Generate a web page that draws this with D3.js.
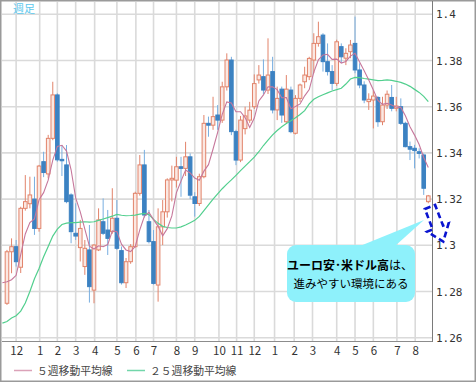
<!DOCTYPE html>
<html><head><meta charset="utf-8">
<script src="https://cdn.jsdelivr.net/npm/d3@7"></script>
<style>
html,body{margin:0;padding:0;background:#fff;}
svg{display:block;}
</style></head>
<body>
<svg id="c" width="476" height="382"></svg>
<script>
// ---- data: EUR/USD weekly, week index 0 = 2012-11-12 (candle 0 lies off the plot) ----
const firstWeek = "2012-11-12";
const open = [null,
1.2749,1.2972,1.2994,1.2905,1.3160,1.3180,1.3200,1.3073,1.3362,1.3309,
1.3463,1.3651,1.3372,1.3348,1.3218,1.3052,1.2990,1.2908,1.2980,1.2806,
1.2980,1.3102,1.3066,1.3059,1.3117,1.2977,1.2838,1.2929,1.2994,1.3225,
1.3348,1.3102,1.3016,1.2828,1.3080,1.3145,1.3283,1.3282,1.3340,1.3333,
1.3383,1.3210,1.3181,1.3297,1.3528,1.3520,1.3564,1.3542,1.3686,1.3802,
1.3492,1.3369,1.3505,1.3542,1.3600,1.3716,1.3730,1.3672,1.3752,1.3586,
1.3676,1.3535,1.3672,1.3485,1.3636,1.3708,1.3730,1.3802,1.3874,1.3910,
1.3795,1.3752,1.3701,1.3860,1.3810,1.3838,1.3874,1.3759,1.3694,1.3622,
1.3629,1.3640,1.3535,1.3607,1.3640,1.3593,1.3600,1.3528,1.3427,1.3420,
1.3405,1.3391,1.3189];
const high = [null,
1.2980,1.3030,1.3023,1.3167,1.3304,1.3297,1.3297,1.3348,1.3405,1.3478,
1.3708,1.3658,1.3434,1.3434,1.3225,1.3182,1.3110,1.3023,1.3088,1.3005,
1.3160,1.3203,1.3153,1.3247,1.3196,1.2995,1.2945,1.3005,1.3232,1.3391,
1.3413,1.3153,1.3066,1.3160,1.3196,1.3290,1.3345,1.3383,1.3383,1.3448,
1.3398,1.3230,1.3310,1.3564,1.3557,1.3643,1.3607,1.3708,1.3831,1.3816,
1.3500,1.3560,1.3600,1.3621,1.3740,1.3780,1.3805,1.3896,1.3816,1.3687,
1.3687,1.3737,1.3687,1.3650,1.3700,1.3773,1.3816,1.3918,1.3968,1.3918,
1.3874,1.3780,1.3890,1.3874,1.3853,1.3889,1.3990,1.3788,1.3710,1.3658,
1.3672,1.3646,1.3643,1.3670,1.3694,1.3643,1.3636,1.3535,1.3449,1.3435,
1.3420,1.3398,1.3218];
const low = [null,
1.2742,1.2879,1.2908,1.2880,1.3150,1.3160,1.3045,1.3059,1.3295,1.3290,
1.3455,1.3362,1.3300,1.3182,1.3009,1.3023,1.2930,1.2872,1.2752,1.2749,
1.2975,1.3045,1.2958,1.3050,1.2980,1.2830,1.2815,1.2920,1.2990,1.3215,
1.3120,1.3008,1.2830,1.2756,1.3001,1.3120,1.3190,1.3250,1.3210,1.3300,
1.3200,1.3124,1.3170,1.3290,1.3470,1.3500,1.3500,1.3530,1.3670,1.3477,
1.3347,1.3360,1.3480,1.3530,1.3590,1.3700,1.3655,1.3655,1.3571,1.3542,
1.3530,1.3528,1.3485,1.3480,1.3620,1.3680,1.3715,1.3745,1.3860,1.3752,
1.3735,1.3672,1.3690,1.3790,1.3780,1.3810,1.3745,1.3680,1.3615,1.3586,
1.3506,1.3513,1.3520,1.3590,1.3580,1.3580,1.3521,1.3424,1.3369,1.3333,
1.3376,1.3218,1.3182];
const close = [null,
1.2972,1.2994,1.2929,1.3160,1.3189,1.3218,1.3073,1.3343,1.3315,1.3463,
1.3651,1.3370,1.3366,1.3189,1.3059,1.3040,1.3073,1.2987,1.2821,1.3001,
1.3110,1.3052,1.3030,1.3117,1.2987,1.2838,1.2929,1.2994,1.3225,1.3348,
1.3131,1.3016,1.2835,1.3080,1.3145,1.3283,1.3290,1.3340,1.3333,1.3383,
1.3217,1.3181,1.3297,1.3528,1.3520,1.3557,1.3542,1.3686,1.3802,1.3492,
1.3369,1.3542,1.3560,1.3585,1.3700,1.3737,1.3672,1.3737,1.3586,1.3636,
1.3564,1.3676,1.3492,1.3636,1.3694,1.3737,1.3809,1.3874,1.3903,1.3795,
1.3752,1.3701,1.3881,1.3816,1.3831,1.3867,1.3759,1.3694,1.3629,1.3632,
1.3646,1.3535,1.3607,1.3654,1.3593,1.3603,1.3528,1.3427,1.3416,1.3410,
1.3398,1.3247,1.3214];
const ma5 = [1.2838,
1.2842,1.2851,1.2870,1.2960,1.3049,1.3098,1.3114,1.3197,1.3228,1.3282,
1.3369,1.3428,1.3433,1.3408,1.3327,1.3205,1.3145,1.3070,1.2996,1.2984,
1.2998,1.2994,1.3003,1.3062,1.3059,1.3005,1.2980,1.2973,1.2995,1.3067,
1.3125,1.3143,1.3111,1.3082,1.3041,1.3072,1.3127,1.3228,1.3278,1.3326,
1.3313,1.3291,1.3282,1.3321,1.3349,1.3417,1.3489,1.3567,1.3621,1.3616,
1.3578,1.3578,1.3553,1.3510,1.3551,1.3625,1.3651,1.3686,1.3686,1.3674,
1.3639,1.3640,1.3591,1.3601,1.3612,1.3647,1.3674,1.3750,1.3803,1.3824,
1.3827,1.3805,1.3806,1.3789,1.3796,1.3819,1.3831,1.3793,1.3756,1.3716,
1.3672,1.3627,1.3610,1.3615,1.3607,1.3598,1.3597,1.3561,1.3513,1.3477,
1.3436,1.3380,1.3337];
const ma25 = [1.2663,
1.2670,1.2685,1.2695,1.2715,1.2750,1.2800,1.2855,1.2900,1.2950,1.2995,
1.3040,1.3070,1.3090,1.3096,1.3098,1.3098,1.3100,1.3102,1.3100,1.3102,
1.3108,1.3114,1.3120,1.3126,1.3134,1.3130,1.3128,1.3129,1.3131,1.3135,
1.3138,1.3133,1.3112,1.3095,1.3082,1.3077,1.3075,1.3075,1.3080,1.3088,
1.3098,1.3108,1.3125,1.3150,1.3175,1.3200,1.3223,1.3245,1.3265,1.3283,
1.3303,1.3323,1.3343,1.3362,1.3382,1.3405,1.3432,1.3455,1.3478,1.3497,
1.3513,1.3527,1.3539,1.3552,1.3566,1.3583,1.3612,1.3632,1.3643,1.3652,
1.3660,1.3668,1.3674,1.3680,1.3698,1.3720,1.3727,1.3726,1.3722,1.3719,
1.3716,1.3713,1.3714,1.3716,1.3714,1.3710,1.3705,1.3698,1.3688,1.3675,
1.3662,1.3645,1.3622];
const yTicks = [1.26, 1.28, 1.3, 1.32, 1.34, 1.36, 1.38, 1.4];
const monthTicks = ["2012-12-03","2013-01-08","2013-02-04","2013-03-04","2013-04-02",
 "2013-05-06","2013-06-04","2013-07-01","2013-08-05","2013-09-02","2013-10-09",
 "2013-11-05","2013-12-02","2014-01-02","2014-02-01","2014-03-01","2014-04-07",
 "2014-05-05","2014-06-02","2014-07-08","2014-08-05"];
const legendLabels = ["５週移動平均線", "２５週移動平均線"];
const periodLabel = "週足";
const calloutBold = "ユーロ安･米ドル高";
const calloutRest = "は、";
const calloutLine2 = "進みやすい環境にある";

// ---- build ----
const parse = d3.utcParse("%Y-%m-%d");
const start = parse(firstWeek);
const dates = open.map((_, i) => d3.utcDay.offset(start, 7 * i));
const data = dates.map((d, i) => ({d, i, o: open[i], h: high[i], l: low[i], c: close[i], m5: ma5[i], m25: ma25[i]}));

const svg = d3.select("#c");
const plotL = 2, plotR = 432, plotT = 2, plotB = 341;
const x = d3.scaleUtc().domain([dates[0], dates[dates.length - 1]]).range([2.4, 428.3]);
const y = d3.scaleLinear().domain([1.26, 1.4]).range([337.7, 14.3]);

// outer frame
svg.append("rect").attr("x", 0.75).attr("y", 0.75).attr("width", 474.5).attr("height", 380.5)
  .attr("fill", "#fff").attr("stroke", "#9a9a9a").attr("stroke-width", 1.5);

const clip = svg.append("defs").append("clipPath").attr("id", "pc");
clip.append("rect").attr("x", plotL).attr("y", plotT).attr("width", plotR - plotL).attr("height", plotB - plotT);

// gridlines
const grid = svg.append("g");
grid.selectAll("line.h").data(yTicks).join("line")
  .attr("x1", plotL).attr("x2", plotR).attr("y1", d => y(d)).attr("y2", d => y(d))
  .attr("stroke", "#dadada").attr("stroke-width", 1.6);
const mt = monthTicks.map(parse);
grid.selectAll("line.v").data(mt).join("line")
  .attr("x1", d => x(d)).attr("x2", d => x(d)).attr("y1", plotT).attr("y2", plotB)
  .attr("stroke", "#dadada").attr("stroke-width", 1.6);

// plot bottom & right axis line
svg.append("line").attr("x1", plotL).attr("x2", plotR).attr("y1", plotB + 0.5).attr("y2", plotB + 0.5)
  .attr("stroke", "#8c8c8c").attr("stroke-width", 1);
svg.append("line").attr("x1", plotR + 0.5).attr("x2", plotR + 0.5).attr("y1", 1).attr("y2", plotB + 1)
  .attr("stroke", "#7a7a7a").attr("stroke-width", 1);

// right y axis labels
const yAxis = d3.axisRight(y).tickValues(yTicks).tickSize(0).tickPadding(4).tickFormat(d => String(d));
const ya = svg.append("g").attr("transform", `translate(${plotR},0)`).call(yAxis);
ya.select(".domain").remove();
ya.selectAll("text").attr("font-family", "'DejaVu Sans Mono', monospace").attr("font-size", 11).attr("fill", "#333");

// month labels
const xAxis = d3.axisBottom(x).tickValues(mt).tickSize(0).tickPadding(5).tickFormat(d => String(d.getUTCMonth() + 1));
const xa = svg.append("g").attr("transform", `translate(0,${plotB + 1})`).call(xAxis);
xa.select(".domain").remove();
xa.selectAll("text").attr("font-family", "'Noto Sans CJK JP', sans-serif").attr("font-size", 11.5).attr("fill", "#333");

// candles
const plot = svg.append("g").attr("clip-path", "url(#pc)");
const cd = data.filter(d => d.o != null);
const bw = 3.6;
const up = "#e2846b", upFill = "#fbe8e2", dn = "#3c82c2", dnWick = "#78aee0";
plot.selectAll("line.w").data(cd).join("line")
  .attr("x1", d => x(d.d)).attr("x2", d => x(d.d)).attr("y1", d => y(d.h)).attr("y2", d => y(d.l))
  .attr("stroke", d => d.c >= d.o ? up : dnWick).attr("stroke-width", 1);
plot.selectAll("rect.b").data(cd).join("rect")
  .attr("x", d => x(d.d) - bw / 2)
  .attr("y", d => y(Math.max(d.o, d.c)))
  .attr("width", bw)
  .attr("height", d => Math.max(1, Math.abs(y(d.o) - y(d.c))))
  .attr("fill", d => d.c >= d.o ? upFill : dn)
  .attr("stroke", d => d.c >= d.o ? up : dn).attr("stroke-width", 1);

// moving averages
const line5 = d3.line().x(d => x(d.d)).y(d => y(d.m5));
const line25 = d3.line().x(d => x(d.d)).y(d => y(d.m25));
plot.append("path").datum(data).attr("d", line25).attr("fill", "none").attr("stroke", "#52cf8e").attr("stroke-width", 1.2);
plot.append("path").datum(data).attr("d", line5).attr("fill", "none").attr("stroke", "#c6779b").attr("stroke-width", 1.1);

// period label
svg.append("text").attr("x", 13).attr("y", 13).text(periodLabel)
  .attr("font-family", "'Noto Sans CJK JP', sans-serif").attr("font-size", 11).attr("fill", "#5cc8ee");

// legend
const lg = svg.append("g").attr("font-family", "'Noto Sans CJK JP', sans-serif").attr("font-size", 10.8).attr("fill", "#444");
const lgItems = [{t: legendLabels[0], c: "#dba2b8", x: 14}, {t: legendLabels[1], c: "#72d6aa", x: 127}];
lgItems.forEach(it => {
  lg.append("line").attr("x1", it.x).attr("x2", it.x + 18).attr("y1", 370.5).attr("y2", 370.5)
    .attr("stroke", it.c).attr("stroke-width", 1.5);
  lg.append("text").attr("x", it.x + 23).attr("y", 374.5).text(it.t);
});

// dashed arrow (down-right)
const ah = svg.append("g").attr("transform", "translate(430,207) rotate(-21)");
ah.append("path")
  .attr("d", "M-5.5,0 L5.5,0 L5.5,22 L11.5,22 L0,37 L-11.5,22 L-5.5,22 Z")
  .attr("fill", "none").attr("stroke", "#0a14d0").attr("stroke-width", 2.6)
  .attr("stroke-dasharray", "6,3.5").attr("stroke-linejoin", "miter");

// callout
const co = svg.append("g");
co.append("path").attr("d", "M360,246 L424,220 L395,246 Z").attr("fill", "#8ef1fb");
co.append("rect").attr("x", 287).attr("y", 245).attr("width", 128).attr("height", 57).attr("rx", 9)
  .attr("fill", "#8ef1fb");
const t1 = co.append("text").attr("x", 350).attr("y", 270).attr("text-anchor", "middle")
  .attr("font-family", "'Noto Sans CJK JP', sans-serif").attr("font-size", 12).attr("fill", "#000");
t1.append("tspan").attr("font-weight", "bold").text(calloutBold);
t1.append("tspan").text(calloutRest);
co.append("text").attr("x", 351).attr("y", 288).attr("text-anchor", "middle")
  .attr("font-family", "'Noto Sans CJK JP', sans-serif").attr("font-size", 11.5).attr("fill", "#000")
  .text(calloutLine2);
</script>
</body></html>
